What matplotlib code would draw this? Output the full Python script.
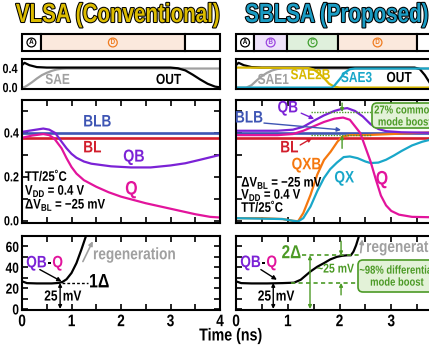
import numpy as np
import matplotlib.pyplot as plt
import matplotlib.patheffects as pe
from matplotlib.patches import FancyBboxPatch
from matplotlib.text import Text
from matplotlib.transforms import Affine2D

plt.rcParams['font.family'] = ['Liberation Sans', 'DejaVu Sans']
plt.rcParams['font.weight'] = 'bold'
plt.rcParams['mathtext.fontset'] = 'custom'
plt.rcParams['mathtext.rm'] = 'Liberation Sans:bold'
plt.rcParams['mathtext.bf'] = 'Liberation Sans:bold'
plt.rcParams['axes.linewidth'] = 1.5

# ---------------- data ----------------
# phases (ns)
phase_edges_l = [0, 0.38, 3.29, 4.0]
phase_names_l = ['A', 'D', '']
phase_edges_r = [0, 0.35, 0.99, 1.97, 3.5, 4.0]
phase_names_r = ['A', 'B', 'C', 'D', '']

# VLSA control waveforms
t_out_l = [0, 0.05, 0.15, 0.3, 0.5, 3.0, 3.15, 3.3, 3.45, 3.6, 3.75, 3.9, 4.0]
v_out_l = [0.47, 0.52, 0.47, 0.43, 0.42, 0.42, 0.405, 0.36, 0.27, 0.17, 0.08, 0.02, 0.005]
t_sae_l = [0, 0.05, 0.1, 0.2, 0.3, 0.4, 0.5, 0.6, 0.7, 0.8, 0.9, 4.0]
v_sae_l = [0.0, 0.01, 0.04, 0.11, 0.19, 0.26, 0.31, 0.35, 0.38, 0.395, 0.40, 0.40]

# VLSA internal nodes
t_flat = [0, 4]
v_bl = [0.378, 0.378]
v_blb = [0.40, 0.40]
t_qb_l = [0, 0.2, 0.43, 0.55, 0.67, 0.8, 0.9, 1.0, 1.1, 1.25, 1.4, 1.8, 2.2, 2.6, 3.0, 3.3, 3.6, 4.0]
v_qb_l = [0.405, 0.412, 0.42, 0.415, 0.40, 0.36, 0.33, 0.305, 0.287, 0.27, 0.26, 0.248, 0.243,
          0.243, 0.252, 0.262, 0.278, 0.30]
t_q_l = [0, 0.2, 0.43, 0.55, 0.65, 0.8, 0.9, 1.0, 1.1, 1.25, 1.5, 1.75, 2.0, 2.5, 3.0, 3.5, 3.8, 4.0]
v_q_l = [0.378, 0.388, 0.395, 0.39, 0.375, 0.33, 0.285, 0.245, 0.215, 0.185, 0.155, 0.13, 0.11,
         0.08, 0.055, 0.03, 0.018, 0.015]

# VLSA QB-Q (mV)
t_diff_l = [0, 0.1, 0.3, 0.6, 0.75, 0.82, 0.9, 1.0, 1.1, 1.2, 1.3]
v_diff_l = [26.5, 24.8, 24.5, 24.5, 25, 26, 28.5, 34.5, 44, 57, 71]

# SBLSA control waveforms
t_out_r = [0, 0.05, 0.15, 0.3, 0.5, 3.45, 3.55, 3.65, 3.75, 3.85, 4.0]
v_out_r = [0.47, 0.52, 0.47, 0.43, 0.42, 0.42, 0.39, 0.26, 0.09, 0.02, 0.0]
t_sae1_r = [0, 0.2, 0.3, 0.4, 0.5, 0.6, 0.7, 0.8, 0.9, 4.0]
v_sae1_r = [0, 0.0, 0.05, 0.15, 0.24, 0.31, 0.36, 0.39, 0.40, 0.40]
t_sae2b_r = [0, 1.4, 1.5, 1.6, 1.7, 1.8, 1.9, 2.0, 4.0]
v_sae2b_r = [0.42, 0.41, 0.38, 0.30, 0.20, 0.08, 0.02, 0.0, 0.0]
t_sae3_r = [0, 1.85, 1.9, 2.0, 2.1, 2.2, 2.3, 4.0]
v_sae3_r = [0, 0, 0.04, 0.17, 0.31, 0.385, 0.40, 0.40]

# SBLSA internal nodes
t_qb_r = [0, 0.8, 1.1, 1.3, 1.5, 1.7, 1.9, 2.05, 2.15, 2.3, 2.45, 2.6, 2.75, 2.9, 3.2, 4.0]
v_qb_r = [0.41, 0.41, 0.415, 0.428, 0.455, 0.48, 0.50, 0.51, 0.513, 0.50, 0.475, 0.44, 0.418,
          0.408, 0.403, 0.40]
t_q_r = [0, 0.8, 1.1, 1.3, 1.5, 1.7, 1.9, 2.07, 2.2, 2.3, 2.4, 2.5, 2.6, 2.7, 2.8, 2.9, 3.0,
         3.15, 3.4, 4.0]
v_q_r = [0.39, 0.39, 0.395, 0.41, 0.43, 0.45, 0.465, 0.47, 0.46, 0.43, 0.40, 0.335, 0.27, 0.19,
         0.115, 0.07, 0.045, 0.028, 0.018, 0.015]
t_qxb_r = [0, 0.5, 0.9, 1.1, 1.2, 1.3, 1.44, 1.57, 1.7, 1.83, 1.96, 2.05, 2.2, 2.5, 3.0, 3.5, 4.0]
v_qxb_r = [0.012, 0.012, 0.008, 0.0, -0.002, 0.035, 0.118, 0.21, 0.277, 0.315, 0.36, 0.383,
           0.39, 0.39, 0.395, 0.40, 0.405]
t_qx_r = [0, 0.9, 1.1, 1.2, 1.3, 1.44, 1.57, 1.7, 1.82, 1.95, 2.08, 2.2, 2.35, 2.5, 2.6, 2.75,
          2.9, 3.05, 3.2, 3.4, 3.6, 3.8, 4.0]
v_qx_r = [0.012, 0.008, 0.0, -0.003, 0.012, 0.065, 0.135, 0.195, 0.235, 0.265, 0.29, 0.293,
          0.285, 0.27, 0.263, 0.265, 0.278, 0.297, 0.318, 0.343, 0.36, 0.372, 0.38]

# SBLSA QB-Q (mV)
t_diff_r = [0, 0.1, 0.3, 0.6, 0.9, 1.12, 1.25, 1.44, 1.57, 1.7, 1.82, 1.95, 2.05, 2.15, 2.22,
            2.27, 2.32, 2.37, 2.42]
v_diff_r = [26.5, 24.8, 24.5, 24.5, 24.8, 25.2, 28, 36, 40.5, 44, 47.5, 50, 51, 51.5, 51.5,
            55, 61, 69, 76]

# colours
C_BLB, C_BL, C_QB, C_Q = '#3e55b4', '#d21e2c', '#7b22d6', '#e2149c'
C_QXB, C_QX, C_GRAY, C_YEL = '#f5780f', '#19a7c9', '#a0a0a0', '#d8b800'
C_GRN, C_GRNF = '#4c9a26', '#e3f2d8'
phase_fill = {'A': 'white', 'B': '#efe3fb', 'C': '#dff0dc', 'D': '#fbe9dd', '': 'white'}
phase_ink = {'A': 'black', 'B': '#9b45e0', 'C': '#3f9f2e', 'D': '#f07c20'}


# the figure uses a narrow bold face; squeeze Liberation Sans sideways to get it
class Narrow(pe.AbstractPathEffect):
    def __init__(self, anchor='center', sx=0.82, stroke=None):
        super().__init__()
        self.anchor, self.sx, self.stroke = anchor, sx, stroke

    def draw_path(self, renderer, gc, tpath, affine, rgbFace=None):
        ext = tpath.get_extents(affine)
        x0 = {'left': ext.x0, 'center': (ext.x0 + ext.x1) / 2, 'right': ext.x1}[self.anchor]
        aff = affine + Affine2D().translate(-x0, 0).scale(self.sx, 1).translate(x0, 0)
        if self.stroke:
            gc0 = renderer.new_gc()
            gc0.copy_properties(gc)
            gc0.set_linewidth(self.stroke)
            gc0.set_foreground('black')
            renderer.draw_path(gc0, tpath, aff, rgbFace)
            gc0.restore()
        renderer.draw_path(gc, tpath, aff, rgbFace)


W, H = 429, 347
fig = plt.figure(figsize=(W / 100, H / 100), dpi=100)


def px_axes(x0, x1, y0, y1):
    return fig.add_axes([x0 / W, 1 - y1 / H, (x1 - x0) / W, (y1 - y0) / H])


def green_box(ax, x0, x1, y0, y1):
    # rounded note box, given in picture pixels (top-left origin)
    box = FancyBboxPatch((x0 / 100, (H - y1) / 100), (x1 - x0) / 100, (y1 - y0) / 100,
                         boxstyle='round,pad=0,rounding_size=0.05', transform=fig.dpi_scale_trans,
                         fc=C_GRNF, ec=C_GRN, lw=1.2, clip_on=False, zorder=4)
    ax.add_patch(box)


cols = {'l': (22, 220), 'r': (236, 443)}
rows = {'phase': (34, 51), 'top': (59, 89), 'main': (100, 223), 'bot': (236, 310)}


def arrow(ax, tip, tail, color, lw=1.0, style='-|>', ms=6):
    ax.annotate('', xy=tip, xytext=tail,
                arrowprops=dict(arrowstyle=style, color=color, lw=lw, mutation_scale=ms,
                                shrinkA=0, shrinkB=0), annotation_clip=False)


def setup_ticks(ax):
    ax.tick_params(which='both', direction='in', top=True, right=True, length=4, width=1.2,
                   labelsize=9.5, pad=2)


axes = {}
for side, (x0, x1) in cols.items():
    # phase bar
    axp = px_axes(x0, x1, *rows['phase'])
    edges = phase_edges_l if side == 'l' else phase_edges_r
    names = phase_names_l if side == 'l' else phase_names_r
    for i, nm in enumerate(names):
        axp.barh(0.5, edges[i + 1] - edges[i], left=edges[i], height=1.0, color=phase_fill[nm],
                 edgecolor='black', lw=1.5, clip_on=False)
        if nm:
            axp.text((edges[i] + edges[i + 1]) / 2, 0.5, nm, ha='center', va='center', fontsize=5.5,
                     color=phase_ink[nm],
                     bbox=dict(boxstyle='circle,pad=0.12', fc='none', ec=phase_ink[nm], lw=0.9))
    axp.set_xlim(0, 4)
    axp.set_ylim(0, 1)
    axp.axis('off')

    axt = px_axes(x0, x1, *rows['top'])
    axt.set_xlim(0, 4)
    axt.set_ylim(-0.03, 0.6)
    axt.set_xticks([])
    axt.set_yticks([0, 0.4])
    axt.tick_params(length=0, labelsize=9.5, pad=3)
    if side == 'l':
        axt.set_yticklabels(['0.0', '0.4'])
    else:
        axt.set_yticklabels([])

    axm = px_axes(x0, x1, *rows['main'])
    axm.set_xlim(0, 4)
    axm.set_ylim(-0.01, 0.55)
    axm.set_xticks([0, 1, 2, 3, 4])
    axm.set_xticks(np.arange(0.5, 4, 1.0), minor=True)
    axm.set_yticks([0, 0.2, 0.4])
    axm.set_yticks([0.1, 0.3, 0.5], minor=True)
    setup_ticks(axm)
    axm.set_xticklabels([])
    if side == 'l':
        axm.set_yticklabels(['0.0', '0.2', '0.4'])
    else:
        axm.set_yticklabels([])

    axb = px_axes(x0, x1, *rows['bot'])
    axb.set_xlim(0, 4)
    axb.set_ylim(-1, 70)
    axb.set_xticks([0, 1, 2, 3, 4])
    axb.set_xticks(np.arange(0.5, 4, 1.0), minor=True)
    axb.set_yticks([0, 20, 40, 60])
    axb.set_yticks([10, 30, 50], minor=True)
    setup_ticks(axb)
    axb.tick_params(axis='x', labelsize=12, pad=3)
    axb.tick_params(axis='y', labelsize=10.5)
    if side == 'r':
        axb.set_yticklabels([])
    axes[side] = (axt, axm, axb)

lw = 1.6
# ---------------- VLSA ----------------
axt, axm, axb = axes['l']
axt.plot(t_sae_l, v_sae_l, color=C_GRAY, lw=lw)
axt.plot(t_out_l, v_out_l, color='black', lw=lw)
axt.text(0.72, 0.16, 'SAE', color=C_GRAY, fontsize=10.5, ha='center', va='center')
axt.text(2.96, 0.16, 'OUT', color='black', fontsize=10.5, ha='center', va='center')

axm.plot(t_flat, v_blb, color=C_BLB, lw=lw + 0.3)
axm.plot(t_flat, v_bl, color=C_BL, lw=lw + 0.3)
axm.plot(t_qb_l, v_qb_l, color=C_QB, lw=lw)
axm.plot(t_q_l, v_q_l, color=C_Q, lw=lw)
axm.text(1.52, 0.45, 'BLB', color=C_BLB, fontsize=12, ha='center', va='center')
axm.text(1.42, 0.332, 'BL', color=C_BL, fontsize=12, ha='center', va='center')
axm.text(2.26, 0.29, 'QB', color=C_QB, fontsize=12.5, ha='center', va='center')
axm.text(2.21, 0.14, 'Q', color=C_Q, fontsize=14, ha='center', va='center')
axm.text(0.06, 0.20, 'TT/25˚C', fontsize=10, va='center')
axm.text(0.06, 0.136, r'V$_{\rm DD}$ = 0.4 V', fontsize=10, va='center')
axm.text(0.06, 0.073, r'ΔV$_{\rm BL}$ = −25 mV', fontsize=10, va='center')

axb.plot(t_diff_l, v_diff_l, color='black', lw=lw)
axb.plot([0.8, 1.33], [25, 25], color='black', lw=1.0, ls=(0, (2, 1.5)))
axb.text(1.35, 25, '1Δ', fontsize=14, va='center', ha='left')
hy = axb.text(0.555, 44.2, '-', fontsize=12, ha='center', va='center')
axb.annotate('QB', xy=(0, 0.5), xycoords=hy, ha='right', va='center', fontsize=12, color=C_QB)
axb.annotate('Q', xy=(1, 0.5), xycoords=hy, ha='left', va='center', fontsize=12, color=C_Q)
arrow(axb, (0.8, 26.4), (0.36, 37.8), 'black', lw=1.0)
arrow(axb, (0.77, 25), (0.77, 0), 'black', lw=1.0, style='<|-|>', ms=5)
axb.text(0.72, 11.9, '25', fontsize=10.5, ha='right', va='center')
axb.text(0.82, 11.9, 'mV', fontsize=10.5, ha='left', va='center')
arrow(axb, (1.43, 65), (1.23, 45.5), C_GRAY, lw=1.2)
axb.text(1.43, 52, 'regeneration', color=C_GRAY, fontsize=12, ha='left', va='center')

# ---------------- SBLSA ----------------
axt, axm, axb = axes['r']
axt.plot(t_sae1_r, v_sae1_r, color=C_GRAY, lw=lw)
axt.plot(t_out_r, v_out_r, color='black', lw=lw)
axt.plot(t_sae2b_r, v_sae2b_r, color=C_YEL, lw=lw)
axt.plot(t_sae3_r, v_sae3_r, color=C_QX, lw=lw)
axt.text(0.72, 0.16, 'SAE1', color=C_GRAY, fontsize=10.5, ha='center', va='center')
axt.text(1.44, 0.26, 'SAE2B', color=C_YEL, fontsize=10.5, ha='center', va='center')
axt.text(2.33, 0.20, 'SAE3', color=C_QX, fontsize=10.5, ha='center', va='center')
axt.text(3.15, 0.20, 'OUT', color='black', fontsize=10.5, ha='center', va='center')

axm.plot(t_flat, v_blb, color=C_BLB, lw=lw + 0.3)
axm.plot(t_flat, v_bl, color=C_BL, lw=lw + 0.3)
axm.plot(t_qxb_r, v_qxb_r, color=C_QXB, lw=lw)
axm.plot(t_qx_r, v_qx_r, color=C_QX, lw=lw)
axm.plot(t_q_r, v_q_r, color=C_Q, lw=lw)
axm.plot(t_qb_r, v_qb_r, color=C_QB, lw=lw)
axm.text(1.0, 0.514, 'QB', color=C_QB, fontsize=12, ha='center', va='center')
arrow(axm, (1.51, 0.464), (1.26, 0.49), C_QB, lw=1.0)
axm.text(0.25, 0.468, 'BLB', color=C_BLB, fontsize=12, ha='center', va='center')
arrow(axm, (2.03, 0.414), (0.54, 0.445), C_BLB, lw=1.0)
axm.text(1.03, 0.332, 'BL', color=C_BL, fontsize=12, ha='center', va='center')
arrow(axm, (1.47, 0.377), (1.24, 0.345), C_BL, lw=1.0)
axm.text(1.36, 0.255, 'QXB', color=C_QXB, fontsize=12, ha='center', va='center')
axm.text(2.09, 0.195, 'QX', color=C_QX, fontsize=12, ha='center', va='center')
axm.text(2.82, 0.186, 'Q', color=C_Q, fontsize=14, ha='center', va='center')
axm.text(0.1, 0.173, r'ΔV$_{\rm BL}$ = −25 mV', fontsize=10, va='center')
axm.text(0.1, 0.118, r'V$_{\rm DD}$ = 0.4 V', fontsize=10, va='center')
axm.text(0.1, 0.059, 'TT/25˚C', fontsize=10, va='center')
axm.plot([1.45, 2.67], [0.495, 0.495], color=C_GRN, lw=1.0, ls=(0, (1, 1)))
axm.plot([1.45, 2.62], [0.39, 0.39], color=C_GRN, lw=1.0, ls=(0, (1, 1)))
arrow(axm, (2.05, 0.495), (2.05, 0.536), C_GRN, lw=1.0, ms=5)
arrow(axm, (2.05, 0.39), (2.05, 0.33), C_GRN, lw=1.0, ms=5)
green_box(axm, 372, 470, 103, 128)
axm.text(3.26, 0.475, '27% common\nmode boost', color=C_GRN, fontsize=8.3, ha='center',
         va='center', linespacing=1.0, clip_on=False, zorder=5)

axb.plot(t_diff_r, v_diff_r, color='black', lw=lw)
axb.plot([1.06, 2.42], [25, 25], color=C_GRN, lw=1.2, ls=(0, (2.5, 2)))
axb.plot([1.28, 2.42], [51.5, 51.5], color=C_GRN, lw=1.2, ls=(0, (2.5, 2)))
arrow(axb, (1.43, 51.5), (1.43, 0), C_GRN, lw=1.0, style='<|-|>', ms=5)
arrow(axb, (2.03, 51.5), (2.03, 65), C_GRN, lw=1.0, ms=5)
arrow(axb, (2.03, 25), (2.03, 13.5), C_GRN, lw=1.0, ms=5)
axb.text(1.07, 53, '2Δ', color=C_GRN, fontsize=13.5, ha='center', va='center')
axb.text(1.92, 37.8, '~25 mV', color=C_GRN, fontsize=9.2, ha='center', va='center')
green_box(axb, 358, 470, 260, 292)
axb.text(3.11, 31, '~98% differential\nmode boost', color=C_GRN, fontsize=8.3, ha='center',
         va='center', linespacing=1.0, clip_on=False, zorder=5)
hy = axb.text(0.532, 44.5, '-', fontsize=12, ha='center', va='center')
axb.annotate('QB', xy=(0, 0.5), xycoords=hy, ha='right', va='center', fontsize=12, color=C_QB)
axb.annotate('Q', xy=(1, 0.5), xycoords=hy, ha='left', va='center', fontsize=12, color=C_Q)
arrow(axb, (0.79, 28), (0.48, 37.8), 'black', lw=1.0)
arrow(axb, (0.72, 25), (0.72, 0), 'black', lw=1.0, style='<|-|>', ms=5)
axb.text(0.68, 11.9, '25', fontsize=10.5, ha='right', va='center')
axb.text(0.765, 11.9, 'mV', fontsize=10.5, ha='left', va='center')
arrow(axb, (2.44, 66.8), (2.41, 54), C_GRAY, lw=1.2)
axb.text(2.51, 59, 'regeneration', color=C_GRAY, fontsize=12, ha='left', va='center')

# ---------------- titles / labels ----------------
fig.text(118 / W, 1 - 15 / H, 'VLSA (Conventional)', ha='center', va='center', fontsize=19,
         color='#dcbc00')
fig.text(245 / W, 1 - 15 / H, 'SBLSA (Proposed)', ha='left', va='center', fontsize=19,
         color='#1a9cc4')
fig.text(231 / W, 1 - 336 / H, 'Time (ns)', ha='center', va='center', fontsize=12.5)

# narrow rendering for every text; outlined titles
fig.canvas.draw()
for t in fig.findobj(Text):
    if not t.get_text():
        continue
    if t.get_fontsize() >= 18:
        t.set_path_effects([Narrow(t.get_ha(), sx=0.78, stroke=1.5)])
    else:
        t.set_path_effects([Narrow(t.get_ha())])

fig.savefig('out.png', dpi=100)
